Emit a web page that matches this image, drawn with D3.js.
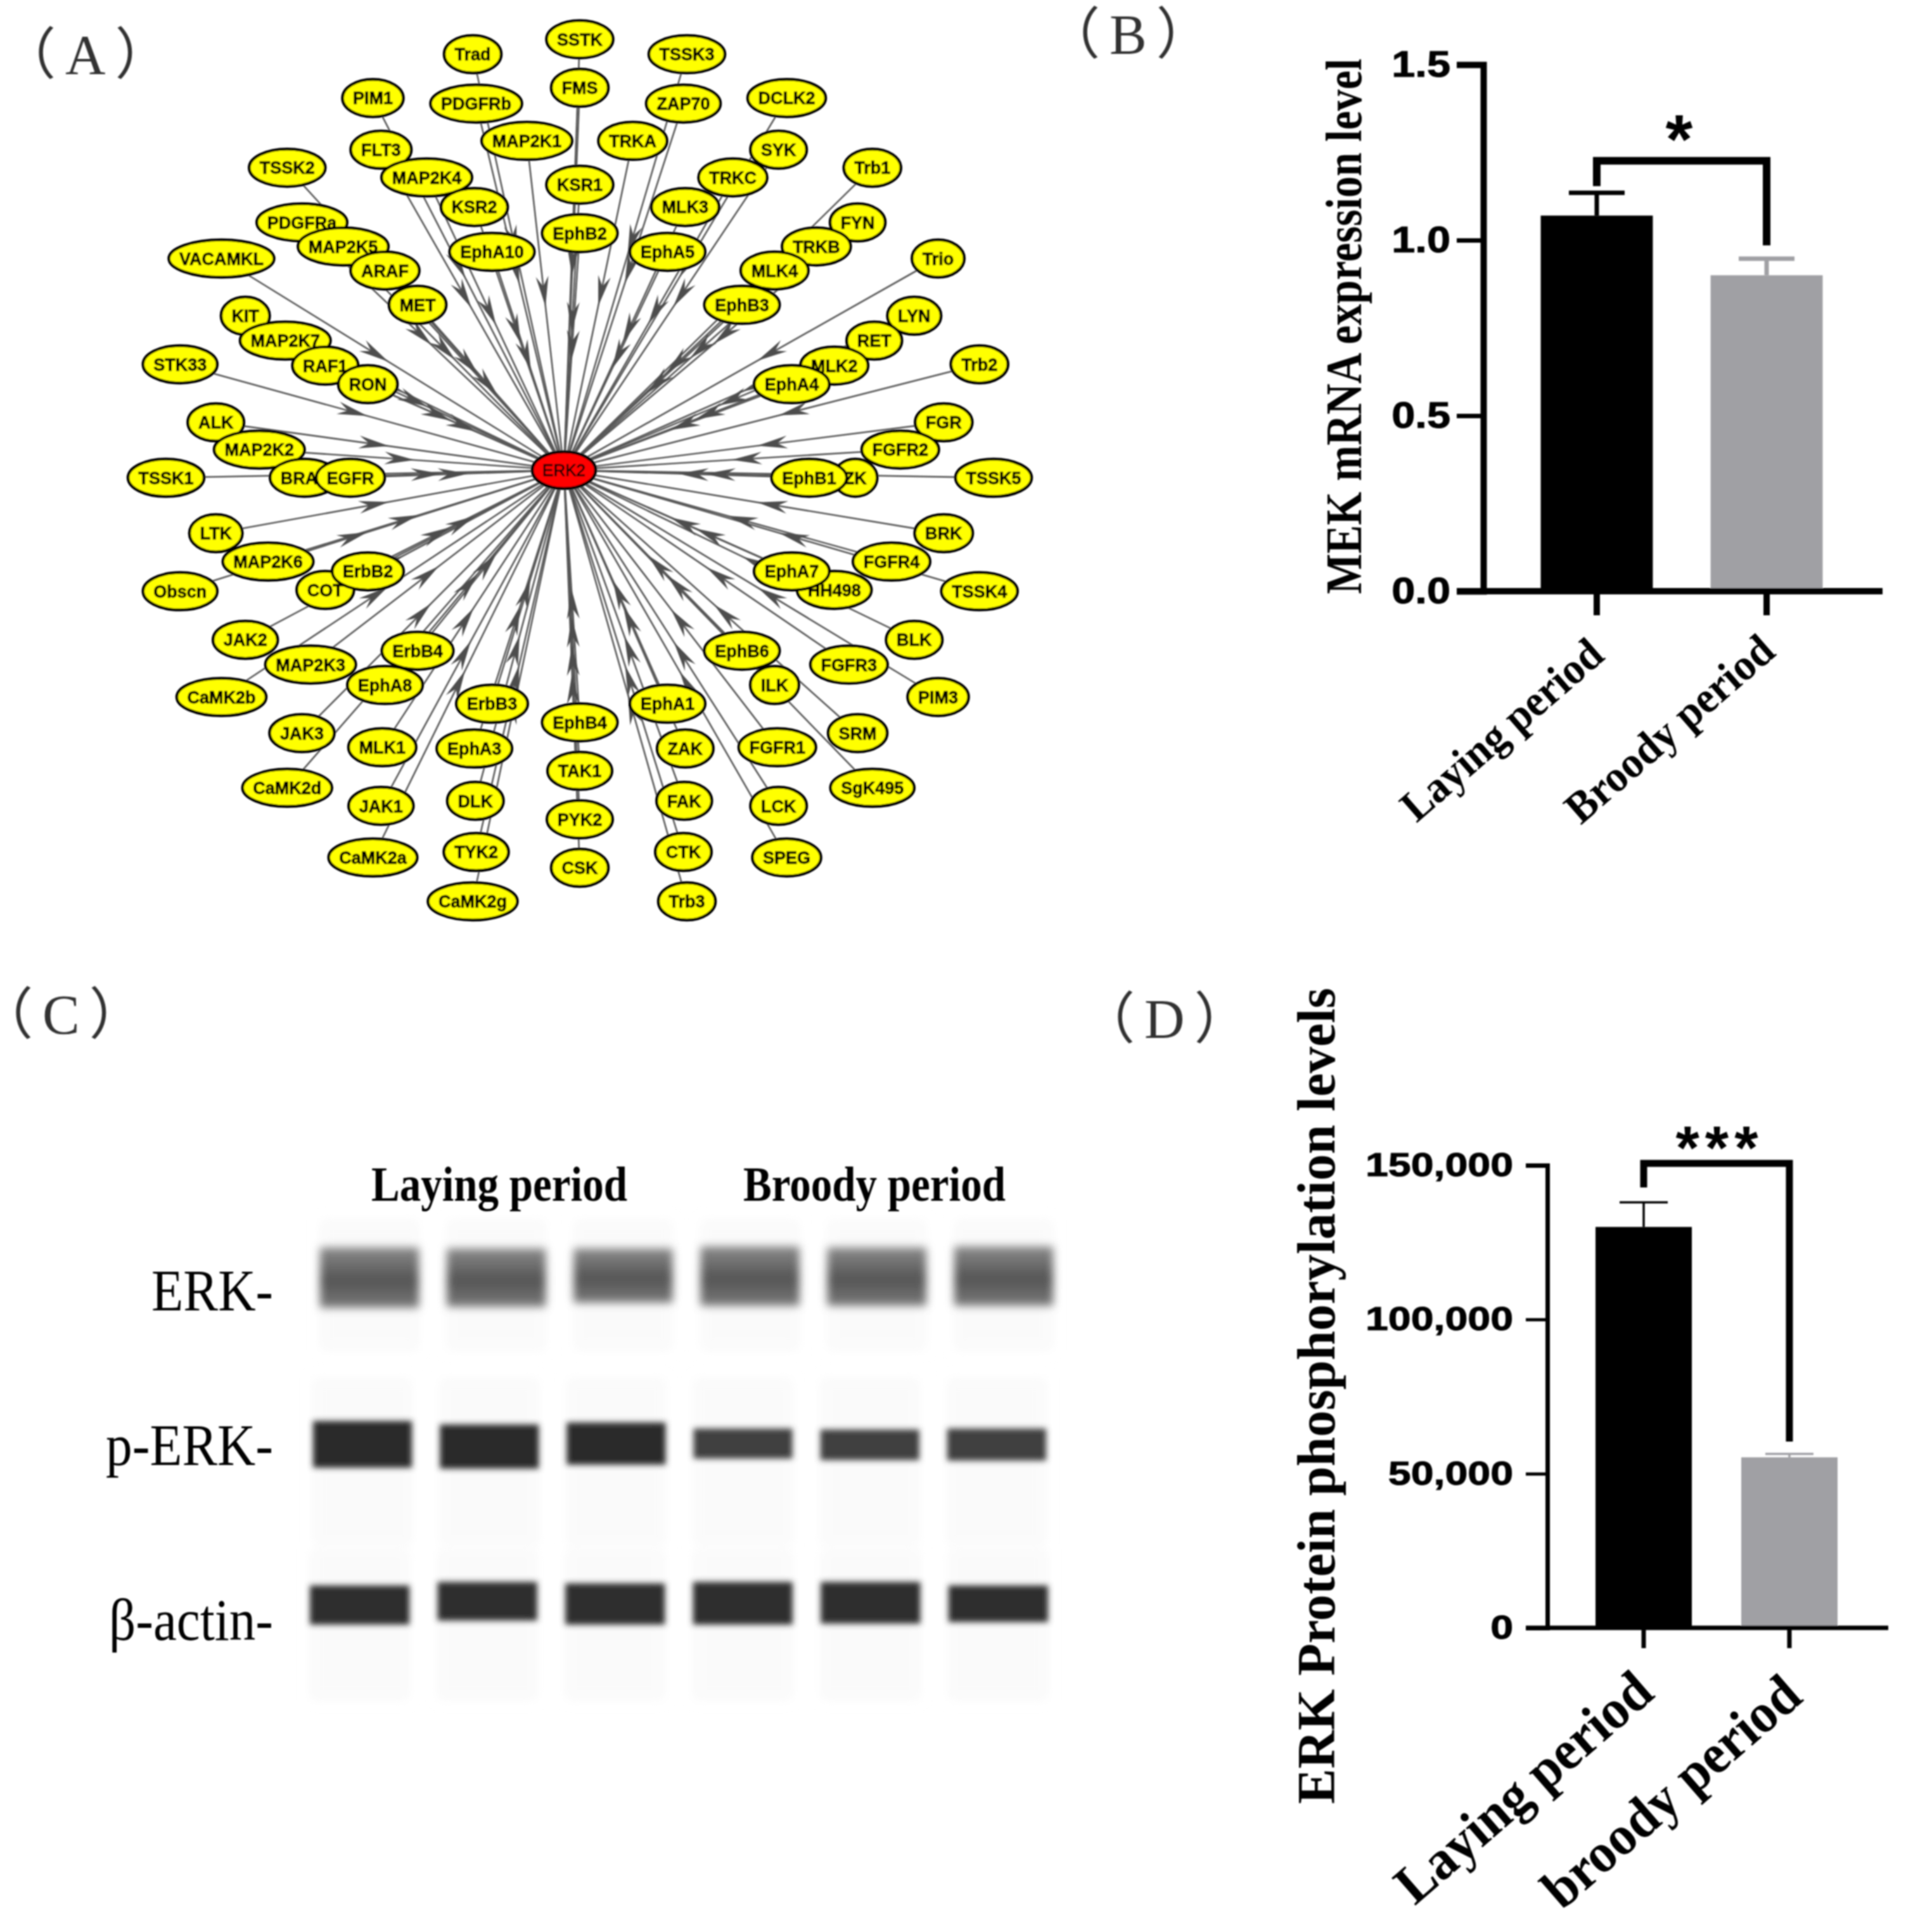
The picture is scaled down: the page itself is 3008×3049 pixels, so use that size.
<!DOCTYPE html>
<html>
<head>
<meta charset="utf-8">
<title>ERK2 network and expression</title>
<script src="https://cdn.jsdelivr.net/npm/d3@7"></script>
<style>
  html, body { margin: 0; padding: 0; background: #fff; }
  svg { display: block; }
  .sans { font-family: "Liberation Sans", Arial, sans-serif; font-weight: bold; }
  .serif { font-family: "Liberation Serif", "Times New Roman", serif; }
  .panel { font-family: "Liberation Serif", "Noto Sans CJK SC", serif; fill: #333; font-feature-settings: "palt"; letter-spacing: 18px; }
</style>
</head>
<body>
<svg id="fig" width="3008" height="3049"></svg>
<script>
// Panel A: kinases by ring, clockwise. null is an empty slot on the ring.
const RING_1 = ["EphB2","EphA5","EphB3","EphA4","EphB1","EphA7","EphB6","EphA1","EphB4","ErbB3","ErbB4","ErbB2","EGFR","RON","MET","EphA10"];
const RING_2 = ["KSR1","MLK3","MLK4","MLK2","ZK","HH498","ILK","ZAK","TAK1","EphA3","EphA8","COT","BRAF","RAF1","ARAF","KSR2"];
const RING_3 = ["PYK2","DLK","MLK1","MAP2K3","MAP2K6","MAP2K2","MAP2K7","MAP2K5","MAP2K4","MAP2K1","TRKA","TRKC","TRKB","RET","FGFR2","FGFR4","FGFR3","FGFR1","FAK"];
const RING_4 = ["FMS","ZAP70","SYK","FYN","LYN","FGR","BRK","BLK","SRM","LCK","CTK","CSK","TYK2","JAK1","JAK3","JAK2","LTK","ALK","KIT","PDGFRa","FLT3","PDGFRb"];
const RING_5 = ["SSTK","TSSK3","DCLK2","Trb1","Trio","Trb2","TSSK5","TSSK4","PIM3","SgK495","SPEG","Trb3",null,"CaMK2g","CaMK2a","CaMK2d","CaMK2b","Obscn","TSSK1","STK33","VACAMKL","TSSK2","PIM1","Trad"];
const RINGS = [RING_1, RING_2, RING_3, RING_4, RING_5];
const RING_START_ANGLES = [0, 0, 180, 0, 0];
const HUB = "ERK2";

// Panel B
const B_CATEGORIES = ["Laying period", "Broody period"];
const B_VALUES = [1.07, 0.90];
const B_ERRORS = [0.065, 0.047];
const B_TICKS = [0, 0.5, 1.0, 1.5];

// Panel C: band edges are read on the gel in arbitrary gel units
const GEL_LANES = [1, 2, 3, 4, 5, 6];
const ERK_TOP = [590, 592, 592, 588, 590, 588];
const ERK_BOTTOM = [710, 708, 700, 706, 706, 706];
const PERK_TOP = [935, 942, 938, 950, 952, 950];
const PERK_BOTTOM = [1028, 1030, 1022, 1010, 1013, 1014];
const ACTIN_TOP = [1262, 1255, 1258, 1255, 1255, 1262];
const ACTIN_BOTTOM = [1340, 1332, 1340, 1340, 1338, 1335];

// Panel D
const D_CATEGORIES = ["Laying period", "broody period"];
const D_VALUES = [130000, 55300];
const D_ERRORS = [8000, 1100];
const D_TICKS = [0, 50000, 100000, 150000];

const root = d3.select("#fig");
root.append("rect").attr("width", 3008).attr("height", 3049).attr("fill", "#fff");
const defs = root.append("defs");
// the source is a soft upscaled raster, a slight blur gets the same edges
defs.append("filter").attr("id", "raster").attr("filterUnits", "userSpaceOnUse")
  .attr("x", 0).attr("y", 0).attr("width", 3008).attr("height", 3049)
  .append("feGaussianBlur").attr("stdDeviation", 0.9);
const svg = root.append("g").attr("filter", "url(#raster)");

function panelLabel(txt, x, y) {
  svg.append("text").attr("class", "panel").attr("x", x).attr("y", y)
    .attr("font-size", 88).text("（" + txt + "）");
}
panelLabel("A", 41, 116);
panelLabel("B", 1689, 84);
panelLabel("C", 5, 1631);
panelLabel("D", 1744, 1638);

// ---------- Panel A ----------
const NET_CX = 915, NET_CY = 754;
const HUB_X = 890, HUB_Y = 742;
const ringRx = d3.scaleLinear().domain([0, 4]).range([362, 653]);
const ringRy = d3.scaleLinear().domain([0, 4]).range([386, 692]);

const nodes = [];
RINGS.forEach((ring, r) => {
  const angle = d3.scaleLinear().domain([0, ring.length]).range([RING_START_ANGLES[r], RING_START_ANGLES[r] + 360]);
  ring.forEach((name, i) => {
    if (name === null) return;
    const a = angle(i) * Math.PI / 180;
    nodes.push({ name, ring: r, x: NET_CX + ringRx(r) * Math.sin(a), y: NET_CY - ringRy(r) * Math.cos(a) });
  });
});

const net = svg.append("g");
const edgeG = net.append("g");

edgeG.selectAll("line").data(nodes).join("line")
  .attr("x1", d => d.x).attr("y1", d => d.y)
  .attr("x2", HUB_X).attr("y2", HUB_Y)
  .attr("stroke", "#595959").attr("stroke-width", 2.6);

// swept back arrowheads, tip towards the hub, a little past the middle of the edge
edgeG.selectAll("path").data(nodes).join("path")
  .attr("fill", "#4d4d4d")
  .attr("transform", d => {
    const bx = HUB_X + (d.x - HUB_X) * 0.585, by = HUB_Y + (d.y - HUB_Y) * 0.585;
    const deg = Math.atan2(HUB_Y - d.y, HUB_X - d.x) * 180 / Math.PI;
    return `translate(${bx},${by}) rotate(${deg})`;
  })
  .attr("d", "M46,0 L-2,10 L14,0 L-2,-10 Z");

// outer rings first so the inner nodes sit on top
const nodeG = net.append("g");
const rows = nodeG.selectAll("g").data(nodes.slice().sort((a, b) => b.ring - a.ring)).join("g")
  .attr("transform", d => `translate(${d.x},${d.y})`);
const ell = rows.append("ellipse").attr("fill", "#ffff00").attr("stroke", "#000").attr("stroke-width", 4.5);
const lab = rows.append("text").attr("class", "sans").attr("font-size", 27)
  .attr("stroke", "#000").attr("stroke-width", 0.8)
  .attr("text-anchor", "middle").attr("dy", "0.36em").text(d => d.name);
lab.each(function (d) { d.tw = this.getComputedTextLength(); });
ell.attr("rx", d => d.tw / 2 + 16.5).attr("ry", 29.5);

const hub = net.append("g").attr("transform", `translate(${HUB_X},${HUB_Y})`);
hub.append("ellipse").attr("rx", 50).attr("ry", 29).attr("fill", "#ff0000").attr("stroke", "#000").attr("stroke-width", 4.5);
hub.append("text").attr("font-family", "Liberation Sans").attr("font-size", 26)
  .attr("text-anchor", "middle").attr("dy", "0.36em").attr("stroke", "#000").attr("stroke-width", 0.8).text(HUB);

// ---------- bar panels B and D ----------
function fitText(sel, len) {
  sel.attr("textLength", len).attr("lengthAdjust", "spacingAndGlyphs");
}

function drawBars(o) {
  const g = svg.append("g");
  const y = d3.scaleLinear().domain(o.yDomain).range(o.yRange);
  const x = d3.scaleBand().domain(o.categories).range(o.xRange).paddingInner(o.padding);
  const colors = ["#000000", "#a0a0a4"];
  const cx = d => x(d) + x.bandwidth() / 2;

  g.selectAll("rect.bar").data(o.categories).join("rect").attr("class", "bar")
    .attr("x", d => x(d)).attr("width", x.bandwidth())
    .attr("y", (d, i) => y(o.values[i])).attr("height", (d, i) => y(0) - y(o.values[i]))
    .attr("fill", (d, i) => colors[i]);

  o.categories.forEach((c, i) => {
    const top = y(o.values[i] + o.errors[i]);
    g.append("line").attr("x1", cx(c)).attr("x2", cx(c)).attr("y1", y(o.values[i])).attr("y2", top)
      .attr("stroke", colors[i]).attr("stroke-width", o.errWidth);
    g.append("line").attr("x1", cx(c) - o.capHalf).attr("x2", cx(c) + o.capHalf).attr("y1", top).attr("y2", top)
      .attr("stroke", colors[i]).attr("stroke-width", o.errWidth);
  });

  const yAxis = g.append("g").attr("transform", `translate(${o.axisX},0)`)
    .call(d3.axisLeft(y).tickValues(o.ticks).tickSize(o.tickLen).tickPadding(o.tickPad).tickFormat(o.format));
  yAxis.select(".domain").attr("stroke", "#000").attr("stroke-width", o.axisWidth);
  yAxis.selectAll(".tick line").attr("stroke", "#000").attr("stroke-width", o.tickWidth);
  yAxis.selectAll(".tick text").attr("class", "sans").attr("font-size", o.tickFont).attr("fill", "#000")
    .attr("stroke", "#000").attr("stroke-width", 1)
    .each(function () {
      fitText(d3.select(this), this.getComputedTextLength() * o.tickStretch);
    });

  const xAxis = g.append("g").attr("transform", `translate(0,${y(0)})`)
    .call(d3.axisBottom(x).tickSize(o.xTickLen).tickFormat(""));
  xAxis.select(".domain").attr("stroke", "none");
  xAxis.selectAll(".tick line").attr("stroke", "#000").attr("stroke-width", o.axisWidth);
  g.append("line").attr("x1", o.axisX - o.tickLen).attr("x2", o.axisEnd).attr("y1", y(0)).attr("y2", y(0))
    .attr("stroke", "#000").attr("stroke-width", o.axisWidth);

  // significance bracket
  const b = d3.path();
  b.moveTo(cx(o.categories[0]), y(o.bracket[0]));
  b.lineTo(cx(o.categories[0]), y(o.bracket[1]));
  b.lineTo(cx(o.categories[1]), y(o.bracket[1]));
  b.lineTo(cx(o.categories[1]), y(o.bracket[2]));
  g.append("path").attr("d", b.toString()).attr("fill", "none").attr("stroke", "#000").attr("stroke-width", o.bracketWidth);
  g.append("text").attr("class", "sans").attr("x", o.star.x).attr("y", o.star.y)
    .attr("font-size", o.star.size).attr("letter-spacing", o.star.spacing).attr("text-anchor", "middle").text(o.star.text);

  // axis title
  const title = g.append("text").attr("class", "serif").attr("font-weight", "bold")
    .attr("font-size", o.title.size).attr("text-anchor", "middle")
    .attr("transform", `translate(${o.title.x},${o.title.y}) rotate(-90)`).text(o.title.text);
  fitText(title, o.title.len);

  // slanted category labels
  o.categories.forEach((c, i) => {
    const t = g.append("text").attr("class", "serif").attr("font-weight", "bold")
      .attr("font-size", o.catFont).attr("text-anchor", "end")
      .attr("transform", `translate(${o.catEnds[i][0]},${o.catEnds[i][1]}) rotate(${o.catAngle})`).text(c);
    fitText(t, o.catLens[i]);
  });
}

drawBars({
  categories: B_CATEGORIES, values: B_VALUES, errors: B_ERRORS, ticks: B_TICKS,
  yDomain: [0, 1.5], yRange: [933, 102], xRange: [2431.5, 2876.5], padding: 0.34,
  axisX: 2341, axisEnd: 2971, axisWidth: 10, tickLen: 42, tickWidth: 7, tickPad: 10, xTickLen: 38,
  tickFont: 57, tickStretch: 1.17, format: d3.format(".1f"),
  errWidth: 7, capHalf: 44, bracket: [1.154, 1.226, 0.985], bracketWidth: 12,
  star: { text: "*", x: 2650, y: 257, size: 110, spacing: 0 },
  title: { text: "MEK mRNA expression level", x: 2148, y: 515, len: 845, size: 80 },
  catFont: 70, catAngle: -41, catEnds: [[2535, 1039], [2805, 1033]], catLens: [397, 411]
});

drawBars({
  categories: D_CATEGORIES, values: D_VALUES, errors: D_ERRORS, ticks: D_TICKS,
  yDomain: [0, 150000], yRange: [2569, 1839], xRange: [2518, 2900], padding: 0.339,
  axisX: 2442, axisEnd: 2980, axisWidth: 7, tickLen: 34, tickWidth: 5, tickPad: 20, xTickLen: 32,
  tickFont: 52, tickStretch: 1.24, format: d3.format(","),
  errWidth: 3.5, capHalf: 38, bracket: [142800, 150600, 60400], bracketWidth: 11,
  star: { text: "***", x: 2714, y: 1844, size: 96, spacing: 9 },
  title: { text: "ERK Protein phosphorylation levels", x: 2106, y: 2203, len: 1288, size: 84 },
  catFont: 88, catAngle: -41, catEnds: [[2614, 2677], [2848, 2683]], catLens: [505, 507]
});

// ---------- Panel C ----------
const gelY = d3.scaleLinear().domain([535, 1490]).range([1925, 2683]);
const blur = (id, sd) => defs.append("filter").attr("id", id)
  .attr("x", "-20%").attr("y", "-40%").attr("width", "140%").attr("height", "180%")
  .append("feGaussianBlur").attr("stdDeviation", sd);
blur("soft", 5);
blur("softer", 7);
blur("lane", 9);

const erkGrad = defs.append("linearGradient").attr("id", "erkGrad").attr("x1", 0).attr("y1", 0).attr("x2", 0).attr("y2", 1);
[[0, "#8a8a8a"], [0.55, "#545454"], [1, "#7a7a7a"]].forEach(s =>
  erkGrad.append("stop").attr("offset", s[0]).attr("stop-color", s[1]));

const GEL_ROWS = [
  { top: ERK_TOP, bottom: ERK_BOTTOM, range: [505, 1662], fill: () => "url(#erkGrad)", lane: [535, 795], blur: "softer" },
  { top: PERK_TOP, bottom: PERK_BOTTOM, range: [494, 1651], fill: (d, i) => i < 3 ? "#2c2c2c" : "#404040", lane: [850, 1185], blur: "soft" },
  { top: ACTIN_TOP, bottom: ACTIN_BOTTOM, range: [489, 1654], fill: () => "#2e2e2e", lane: [1190, 1490], blur: "soft" }
];
const gel = svg.append("g");
GEL_ROWS.forEach(row => {
  const x = d3.scaleBand().domain(GEL_LANES).range(row.range).paddingInner(0.22);
  gel.append("g").selectAll("rect").data(GEL_LANES).join("rect")
    .attr("x", d => x(d)).attr("width", x.bandwidth())
    .attr("y", gelY(row.lane[0])).attr("height", gelY(row.lane[1]) - gelY(row.lane[0]))
    .attr("fill", "#fafafa").attr("filter", "url(#lane)");
  gel.append("g").selectAll("rect").data(GEL_LANES).join("rect")
    .attr("x", d => x(d)).attr("width", x.bandwidth())
    .attr("y", (d, i) => gelY(row.top[i])).attr("height", (d, i) => gelY(row.bottom[i]) - gelY(row.top[i]))
    .attr("fill", row.fill).attr("filter", `url(#${row.blur})`);
});

[["Laying period", 788, 1895, 404], ["Broody period", 1380, 1895, 414]].forEach(t => {
  const s = gel.append("text").attr("class", "serif").attr("font-weight", "bold").attr("font-size", 78)
    .attr("text-anchor", "middle").attr("x", t[1]).attr("y", t[2]).text(t[0]);
  fitText(s, t[3]);
});
[["ERK-", 2068, 192], ["p-ERK-", 2312, 264], ["β-actin-", 2588, 259]].forEach(t => {
  const s = gel.append("text").attr("class", "serif").attr("font-size", 94)
    .attr("text-anchor", "end").attr("x", 431).attr("y", t[1]).text(t[0]);
  fitText(s, t[2]);
});
</script>
</body>
</html>
